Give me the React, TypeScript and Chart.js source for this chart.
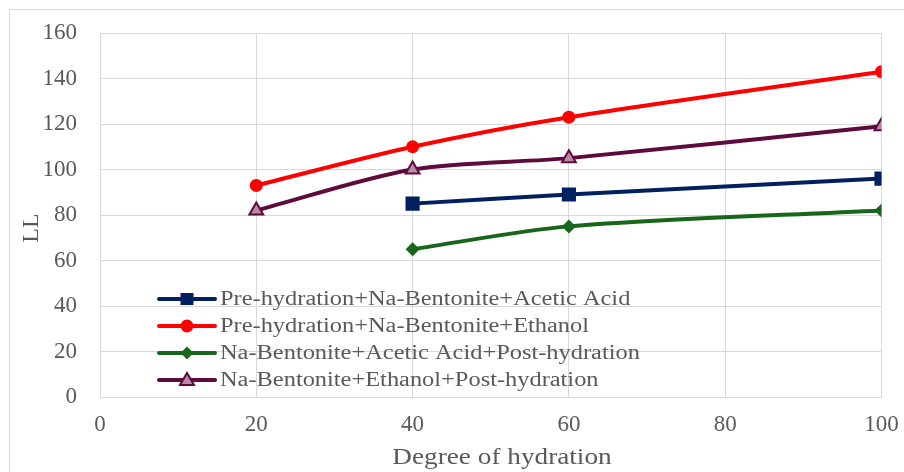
import React, { useEffect, useRef } from "react";
import { Chart, registerables } from "chart.js";

Chart.register(...registerables);

const degreeEarly = [20, 40, 60, 100];
const degreeLate = [40, 60, 100];
const preAcetic = [85, 89, 96];
const preEthanol = [93, 110, 123, 143];
const postAcetic = [65, 75, 82];
const postEthanol = [82, 100, 105, 119];
const seriesNames = [
  "Pre-hydration+Na-Bentonite+Acetic Acid",
  "Pre-hydration+Na-Bentonite+Ethanol",
  "Na-Bentonite+Acetic Acid+Post-hydration",
  "Na-Bentonite+Ethanol+Post-hydration",
];
const seriesColors = ["#002060", "#ff0000", "#17661a", "#5e0a3e"];
const seriesMarkers = ["rect", "circle", "rectRot", "triangle"];
const xTitle = "Degree of hydration";
const yTitle = "LL";

const FONT = "'Liberation Serif', 'Times New Roman', serif";
const TEXT = "#595959";
const GRID = "#d9d9d9";
const TRI_FILL = "#b98aa5";

function pts(xs: number[], ys: number[]) {
  return ys.map((y, i) => ({ x: xs[i], y }));
}

function drawMarker(ctx: CanvasRenderingContext2D, kind: string, x: number, y: number, color: string) {
  ctx.save();
  ctx.fillStyle = color;
  ctx.strokeStyle = color;
  ctx.lineWidth = 2;
  ctx.beginPath();
  if (kind === "rect") {
    ctx.rect(x - 6.5, y - 6, 13, 12);
    ctx.fill();
  } else if (kind === "circle") {
    ctx.arc(x, y, 6.5, 0, Math.PI * 2);
    ctx.fill();
  } else if (kind === "rectRot") {
    ctx.moveTo(x, y - 6.5);
    ctx.lineTo(x + 6.5, y);
    ctx.lineTo(x, y + 6.5);
    ctx.lineTo(x - 6.5, y);
    ctx.closePath();
    ctx.fill();
  } else {
    ctx.moveTo(x, y - 7);
    ctx.lineTo(x + 7, y + 5);
    ctx.lineTo(x - 7, y + 5);
    ctx.closePath();
    ctx.fillStyle = TRI_FILL;
    ctx.fill();
    ctx.stroke();
  }
  ctx.restore();
}

const textPlugin = {
  id: "textAndLegend",
  afterDraw(chart: any) {
    const { ctx, chartArea } = chart;
    ctx.save();
    const rows = [-98, -71, -44, -17];
    seriesNames.forEach((name, i) => {
      const y = chartArea.bottom + rows[i];
      const x0 = chartArea.left + 59;
      ctx.strokeStyle = seriesColors[i];
      ctx.lineWidth = 4;
      ctx.lineCap = "round";
      ctx.beginPath();
      ctx.moveTo(x0, y);
      ctx.lineTo(x0 + 56, y);
      ctx.stroke();
      drawMarker(ctx, seriesMarkers[i], x0 + 28, y, seriesColors[i]);
      ctx.save();
      ctx.translate(x0 + 61, y + 1);
      ctx.scale(1.22, 1);
      ctx.fillStyle = TEXT;
      ctx.font = `20px ${FONT}`;
      ctx.textBaseline = "middle";
      ctx.textAlign = "left";
      ctx.fillText(name, 0, 0);
      ctx.restore();
    });
    ctx.save();
    ctx.translate(chartArea.left + 402, 450);
    ctx.scale(1.135, 1);
    ctx.fillStyle = TEXT;
    ctx.font = `24px ${FONT}`;
    ctx.textBaseline = "middle";
    ctx.textAlign = "center";
    ctx.fillText(xTitle, 0, 0);
    ctx.restore();
    ctx.save();
    ctx.translate(24, 220);
    ctx.rotate(-Math.PI / 2);
    ctx.fillStyle = TEXT;
    ctx.font = `24px ${FONT}`;
    ctx.textBaseline = "middle";
    ctx.textAlign = "center";
    ctx.fillText(yTitle, 0, 0);
    ctx.restore();
    ctx.restore();
  },
};

const borderPlugin = {
  id: "outerBorder",
  beforeDraw(chart: any) {
    const { ctx } = chart;
    ctx.save();
    ctx.fillStyle = "#ffffff";
    ctx.fillRect(0, 0, chart.width, chart.height);
    ctx.strokeStyle = GRID;
    ctx.lineWidth = 1;
    ctx.strokeRect(1.5, 1.5, chart.width + 10, chart.height + 10);
    ctx.restore();
  },
};

function zeroPad(s: any) {
  s.paddingTop = 0;
  s.paddingBottom = 0;
  s.paddingLeft = 0;
  s.paddingRight = 0;
}

export default function App() {
  const ref = useRef<HTMLCanvasElement | null>(null);
  useEffect(() => {
    if (!ref.current) return;
    document.body.style.overflow = "hidden";
    const mk = (i: number, xs: number[], ys: number[]) => ({
      label: seriesNames[i],
      data: pts(xs, ys),
      borderColor: seriesColors[i],
      backgroundColor: seriesColors[i],
      pointBackgroundColor: i === 3 ? TRI_FILL : seriesColors[i],
      pointBorderColor: seriesColors[i],
      pointStyle: seriesMarkers[i],
      pointRadius: i === 0 ? 10 : i === 1 ? 6.5 : i === 2 ? 7 : 8,
      pointBorderWidth: i === 3 ? 2 : 0,
      borderWidth: 4,
      tension: 0.3,
      fill: false,
    });
    const chart = new Chart(ref.current, {
      type: "line",
      data: {
        datasets: [
          mk(0, degreeLate, preAcetic),
          mk(1, degreeEarly, preEthanol),
          mk(2, degreeLate, postAcetic),
          mk(3, degreeEarly, postEthanol),
        ],
      },
      options: {
        animation: false,
        responsive: false,
        devicePixelRatio: 1,
        layout: { padding: { top: 25, right: 22.5, bottom: 0, left: 0 } },
        plugins: { legend: { display: false }, tooltip: { enabled: false } },
        scales: {
          x: {
            type: "linear",
            min: 0,
            max: 100,
            afterFit: (s: any) => {
              s.height = 75;
              zeroPad(s);
            },
            ticks: {
              stepSize: 20,
              padding: 14,
              color: TEXT,
              font: { family: FONT, size: 23 },
              maxRotation: 0,
            },
            grid: { color: GRID, drawTicks: false, lineWidth: 1 },
            border: { color: GRID },
            title: { display: false },
          },
          y: {
            min: 0,
            max: 160,
            afterFit: (s: any) => {
              s.width = 92;
              zeroPad(s);
            },
            ticks: {
              stepSize: 20,
              padding: 23,
              color: TEXT,
              font: { family: FONT, size: 23 },
            },
            grid: { color: GRID, drawTicks: false, lineWidth: 1 },
            border: { color: GRID },
            title: { display: false },
          },
        },
      },
      plugins: [borderPlugin, textPlugin],
    });
    return () => chart.destroy();
  }, []);
  return (
    <div style={{ position: "fixed", left: 8, top: 8, width: 896, height: 464 }}>
      <canvas ref={ref} width={896} height={464} style={{ display: "block" }} />
    </div>
  );
}
